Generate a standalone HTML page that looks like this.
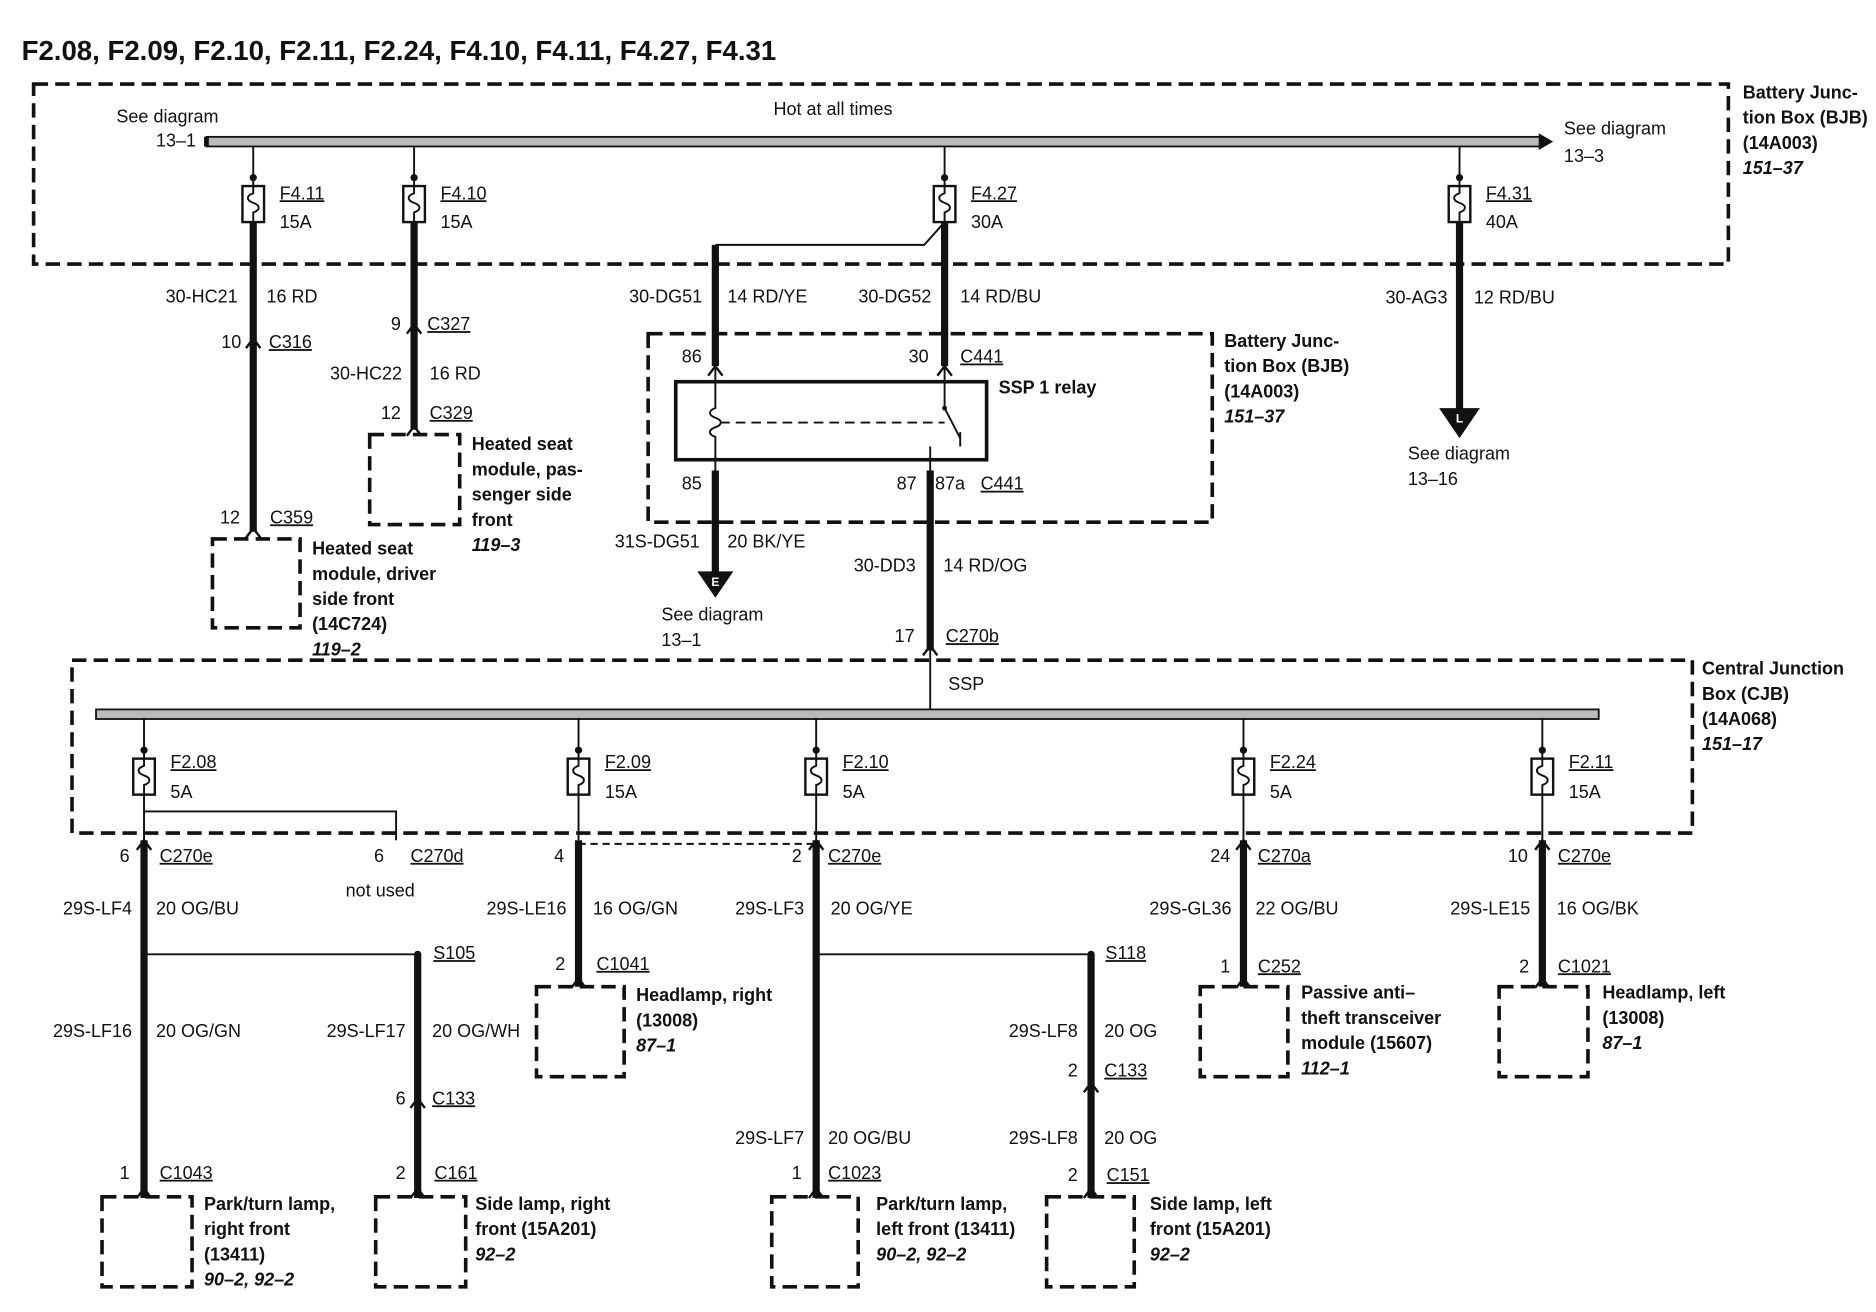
<!DOCTYPE html>
<html><head><meta charset="utf-8"><style>
html,body{margin:0;padding:0;background:#fff;}
svg{display:block}
text{font-family:"Liberation Sans",Arial,sans-serif;font-size:15px;fill:#111;}
.b{font-weight:bold}
.i{font-weight:bold;font-style:italic}
.u{text-decoration:underline}
.r{text-anchor:end}
.t{font-size:23px;font-weight:bold}
.d{fill:none;stroke:#111;stroke-width:3;stroke-dasharray:12 6}
.w{stroke:#111;stroke-width:6;fill:none}
.n{stroke:#111;stroke-width:1.6;fill:none}
</style></head><body>
<svg width="1876" height="1312" viewBox="0 0 1563 1093" preserveAspectRatio="none" xmlns="http://www.w3.org/2000/svg">
<defs>
<g id="fz"><circle cx="0" cy="0" r="3" fill="#111"/><line x1="0" y1="0" x2="0" y2="7" stroke="#111" stroke-width="1.6"/><rect x="-9" y="7" width="18" height="30" fill="#fff" stroke="#111" stroke-width="2"/><path d="M0 7 v6 c-6 2 -6 6 0 8 c6 2 6 6 0 8 v8" fill="none" stroke="#111" stroke-width="1.6"/></g>
<path id="cv" d="M-6 8 L0 0 L6 8" fill="none" stroke="#111" stroke-width="2"/>
</defs>
<text x="18" y="50" class="t">F2.08, F2.09, F2.10, F2.11, F2.24, F4.10, F4.11, F4.27, F4.31</text>

<!-- BJB -->
<rect x="28" y="70" width="1412" height="150" class="d"/>
<rect x="172" y="114" width="1113" height="8" fill="#bbb" stroke="#111" stroke-width="1.5"/>
<path d="M1282 111 L1294 118 L1282 125Z" fill="#111"/>
<rect x="170" y="114" width="4" height="8" fill="#111"/>
<text x="694" y="96" style="text-anchor:middle">Hot at all times</text>
<text x="97" y="102">See diagram</text><text x="130" y="122">13–1</text>
<text x="1303" y="112">See diagram</text><text x="1303" y="135">13–3</text>
<text x="1452" y="82" class="b">Battery Junc-</text><text x="1452" y="103" class="b">tion Box (BJB)</text><text x="1452" y="124" class="b">(14A003)</text><text x="1452" y="145" class="i">151–37</text>
<path d="M211 122 V148 M345 122 V148 M787 122 V148 M1216 122 V148" class="n"/>
<use href="#fz" x="211" y="148"/><use href="#fz" x="345" y="148"/><use href="#fz" x="787" y="148"/><use href="#fz" x="1216" y="148"/>
<text x="233" y="166" class="u">F4.11</text><text x="233" y="190">15A</text>
<text x="367" y="166" class="u">F4.10</text><text x="367" y="190">15A</text>
<text x="809" y="166" class="u">F4.27</text><text x="809" y="190">30A</text>
<text x="1238" y="166" class="u">F4.31</text><text x="1238" y="190">40A</text>

<!-- F4.11 -->
<path d="M211 185 V443" class="w"/>
<use href="#cv" x="211" y="282"/><use href="#cv" x="211" y="440"/>
<text x="198" y="252" class="r">30-HC21</text><text x="222" y="252">16 RD</text>
<text x="201" y="290" class="r">10</text><text x="224" y="290" class="u">C316</text>
<text x="200" y="436" class="r">12</text><text x="225" y="436" class="u">C359</text>
<rect x="177" y="449" width="73" height="74" class="d"/>
<text x="260" y="462" class="b">Heated seat</text><text x="260" y="483" class="b">module, driver</text><text x="260" y="504" class="b">side front</text><text x="260" y="525" class="b">(14C724)</text><text x="260" y="546" class="i">119–2</text>

<!-- F4.10 -->
<path d="M345 185 V358" class="w"/>
<use href="#cv" x="345" y="270"/><use href="#cv" x="345" y="355"/>
<text x="334" y="275" class="r">9</text><text x="356" y="275" class="u">C327</text>
<text x="335" y="316" class="r">30-HC22</text><text x="358" y="316">16 RD</text>
<text x="334" y="349" class="r">12</text><text x="358" y="349" class="u">C329</text>
<rect x="308" y="362" width="75" height="75" class="d"/>
<text x="393" y="375" class="b">Heated seat</text><text x="393" y="396" class="b">module, pas-</text><text x="393" y="417" class="b">senger side</text><text x="393" y="438" class="b">front</text><text x="393" y="459" class="i">119–3</text>

<!-- F4.27 -->
<path d="M787 185 L770 204 H596" class="n"/>
<path d="M596 204 V305 M787 185 V305" class="w"/>
<text x="585" y="252" class="r">30-DG51</text><text x="606" y="252">14 RD/YE</text>
<text x="776" y="252" class="r">30-DG52</text><text x="800" y="252">14 RD/BU</text>
<rect x="540" y="278" width="470" height="157" class="d"/>
<rect x="563" y="318" width="259" height="65" fill="none" stroke="#111" stroke-width="3"/>
<use href="#cv" x="596" y="305"/><use href="#cv" x="787" y="305"/>
<path d="M596 305 V340 c-6 2 -6 6 0 8 c6 2 6 6 0 8 c-6 2 -6 6 0 8 V395" class="n"/>
<path d="M600 352 H787" class="n" style="stroke-dasharray:8 5"/>
<path d="M787 305 V340 L800 365 M800 372 V360 M775 372 V395" class="n"/>
<circle cx="787" cy="340" r="2" fill="#111"/>
<text x="568" y="302">86</text><text x="757" y="302">30</text><text x="800" y="302" class="u">C441</text>
<text x="832" y="328" class="b">SSP 1 relay</text>
<text x="568" y="408">85</text><text x="747" y="408">87</text><text x="779" y="408">87a</text><text x="817" y="408" class="u">C441</text>
<text x="1020" y="289" class="b">Battery Junc-</text><text x="1020" y="310" class="b">tion Box (BJB)</text><text x="1020" y="331" class="b">(14A003)</text><text x="1020" y="352" class="i">151–37</text>
<path d="M596 392 V478" class="w"/>
<path d="M581 476 H611 L596 498Z" fill="#111"/>
<text x="596" y="488" style="font-size:10px;fill:#fff;text-anchor:middle;font-weight:bold">E</text>
<text x="583" y="456" class="r">31S-DG51</text><text x="606" y="456">20 BK/YE</text>
<text x="551" y="517">See diagram</text><text x="551" y="538">13–1</text>
<path d="M775 392 V542" class="w"/><path d="M775 542 V594" class="n"/>
<use href="#cv" x="775" y="538"/>
<text x="763" y="476" class="r">30-DD3</text><text x="786" y="476">14 RD/OG</text>
<text x="762" y="535" class="r">17</text><text x="788" y="535" class="u">C270b</text>

<!-- F4.31 -->
<path d="M1216 185 V342" class="w"/>
<path d="M1199 340 H1233 L1216 365Z" fill="#111"/>
<text x="1216" y="352" style="font-size:10px;fill:#fff;text-anchor:middle;font-weight:bold">L</text>
<text x="1206" y="253" class="r">30-AG3</text><text x="1228" y="253">12 RD/BU</text>
<text x="1173" y="383">See diagram</text><text x="1173" y="404">13–16</text>

<!-- CJB -->
<rect x="60" y="550" width="1350" height="144" class="d"/>
<rect x="80" y="591" width="1252" height="8" fill="#bbb" stroke="#111" stroke-width="1.5"/>
<text x="790" y="575">SSP</text>
<text x="1418" y="562" class="b">Central Junction</text><text x="1418" y="583" class="b">Box (CJB)</text><text x="1418" y="604" class="b">(14A068)</text><text x="1418" y="625" class="i">151–17</text>
<path d="M120 598 V625 M482 598 V625 M680 598 V625 M1036 598 V625 M1285 598 V625" class="n"/>
<use href="#fz" x="120" y="625"/><use href="#fz" x="482" y="625"/><use href="#fz" x="680" y="625"/><use href="#fz" x="1036" y="625"/><use href="#fz" x="1285" y="625"/>
<text x="142" y="640" class="u">F2.08</text><text x="142" y="665">5A</text>
<text x="504" y="640" class="u">F2.09</text><text x="504" y="665">15A</text>
<text x="702" y="640" class="u">F2.10</text><text x="702" y="665">5A</text>
<text x="1058" y="640" class="u">F2.24</text><text x="1058" y="665">5A</text>
<text x="1307" y="640" class="u">F2.11</text><text x="1307" y="665">15A</text>
<path d="M120 662 V700 M120 676 H330 V700 M482 662 V700 M680 662 V700 M1036 662 V700 M1285 662 V700" class="n"/>
<path d="M482 703 H680" class="n" style="stroke-dasharray:6 4"/>

<!-- F2.08 -->
<path d="M120 700 V998" class="w"/><use href="#cv" x="120" y="700"/><use href="#cv" x="120" y="990"/>
<text x="108" y="718" class="r">6</text><text x="133" y="718" class="u">C270e</text>
<text x="320" y="718" class="r">6</text><text x="342" y="718" class="u">C270d</text>
<text x="288" y="747">not used</text>
<text x="110" y="762" class="r">29S-LF4</text><text x="130" y="762">20 OG/BU</text>
<path d="M120 795 H348" class="n"/><circle cx="120" cy="795" r="3" fill="#111"/><circle cx="348" cy="795" r="3" fill="#111"/>
<path d="M348 795 V998" class="w"/><use href="#cv" x="348" y="915"/><use href="#cv" x="348" y="990"/>
<text x="361" y="799" class="u">S105</text>
<text x="110" y="864" class="r">29S-LF16</text><text x="130" y="864">20 OG/GN</text>
<text x="338" y="864" class="r">29S-LF17</text><text x="360" y="864">20 OG/WH</text>
<text x="338" y="920" class="r">6</text><text x="360" y="920" class="u">C133</text>
<text x="108" y="982" class="r">1</text><text x="133" y="982" class="u">C1043</text>
<text x="338" y="982" class="r">2</text><text x="362" y="982" class="u">C161</text>
<rect x="85" y="997" width="75" height="75" class="d"/><rect x="313" y="997" width="75" height="75" class="d"/>
<text x="170" y="1008" class="b">Park/turn lamp,</text><text x="170" y="1029" class="b">right front</text><text x="170" y="1050" class="b">(13411)</text><text x="170" y="1071" class="i">90–2, 92–2</text>
<text x="396" y="1008" class="b">Side lamp, right</text><text x="396" y="1029" class="b">front (15A201)</text><text x="396" y="1050" class="i">92–2</text>

<!-- F2.09 -->
<path d="M482 700 V822" class="w"/><use href="#cv" x="482" y="815"/>
<text x="470" y="718" class="r">4</text>
<text x="472" y="762" class="r">29S-LE16</text><text x="494" y="762">16 OG/GN</text>
<text x="471" y="808" class="r">2</text><text x="497" y="808" class="u">C1041</text>
<rect x="447" y="822" width="73" height="75" class="d"/>
<text x="530" y="834" class="b">Headlamp, right</text><text x="530" y="855" class="b">(13008)</text><text x="530" y="876" class="i">87–1</text>

<!-- F2.10 -->
<path d="M680 700 V998" class="w"/><use href="#cv" x="680" y="700"/><use href="#cv" x="680" y="990"/>
<text x="668" y="718" class="r">2</text><text x="690" y="718" class="u">C270e</text>
<text x="670" y="762" class="r">29S-LF3</text><text x="692" y="762">20 OG/YE</text>
<path d="M680 795 H909" class="n"/><circle cx="680" cy="795" r="3" fill="#111"/><circle cx="909" cy="795" r="3" fill="#111"/>
<text x="921" y="799" class="u">S118</text>
<text x="670" y="953" class="r">29S-LF7</text><text x="690" y="953">20 OG/BU</text>
<text x="668" y="982" class="r">1</text><text x="690" y="982" class="u">C1023</text>
<rect x="643" y="997" width="72" height="75" class="d"/>
<text x="730" y="1008" class="b">Park/turn lamp,</text><text x="730" y="1029" class="b">left front (13411)</text><text x="730" y="1050" class="i">90–2, 92–2</text>
<path d="M909 795 V998" class="w"/><use href="#cv" x="909" y="902"/><use href="#cv" x="909" y="990"/>
<text x="898" y="864" class="r">29S-LF8</text><text x="920" y="864">20 OG</text>
<text x="898" y="897" class="r">2</text><text x="920" y="897" class="u">C133</text>
<text x="898" y="953" class="r">29S-LF8</text><text x="920" y="953">20 OG</text>
<text x="898" y="984" class="r">2</text><text x="922" y="984" class="u">C151</text>
<rect x="872" y="997" width="73" height="75" class="d"/>
<text x="958" y="1008" class="b">Side lamp, left</text><text x="958" y="1029" class="b">front (15A201)</text><text x="958" y="1050" class="i">92–2</text>

<!-- F2.24 -->
<path d="M1036 700 V822" class="w"/><use href="#cv" x="1036" y="700"/><use href="#cv" x="1036" y="815"/>
<text x="1025" y="718" class="r">24</text><text x="1048" y="718" class="u">C270a</text>
<text x="1026" y="762" class="r">29S-GL36</text><text x="1046" y="762">22 OG/BU</text>
<text x="1025" y="810" class="r">1</text><text x="1048" y="810" class="u">C252</text>
<rect x="1000" y="822" width="73" height="75" class="d"/>
<text x="1084" y="832" class="b">Passive anti–</text><text x="1084" y="853" class="b">theft transceiver</text><text x="1084" y="874" class="b">module (15607)</text><text x="1084" y="895" class="i">112–1</text>

<!-- F2.11 -->
<path d="M1285 700 V822" class="w"/><use href="#cv" x="1285" y="700"/><use href="#cv" x="1285" y="815"/>
<text x="1273" y="718" class="r">10</text><text x="1298" y="718" class="u">C270e</text>
<text x="1275" y="762" class="r">29S-LE15</text><text x="1297" y="762">16 OG/BK</text>
<text x="1274" y="810" class="r">2</text><text x="1298" y="810" class="u">C1021</text>
<rect x="1249" y="822" width="74" height="75" class="d"/>
<text x="1335" y="832" class="b">Headlamp, left</text><text x="1335" y="853" class="b">(13008)</text><text x="1335" y="874" class="i">87–1</text>
</svg>
</body></html>
